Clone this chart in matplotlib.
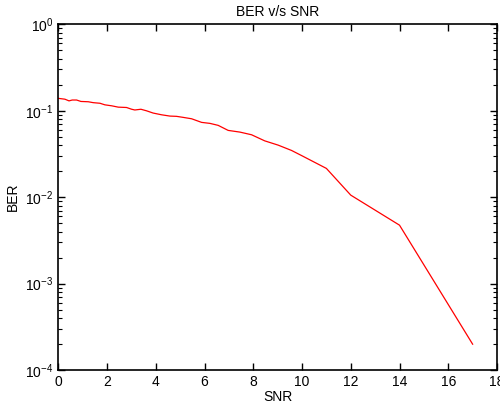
import matplotlib
matplotlib.use("Agg")
import matplotlib.pyplot as plt
from matplotlib.ticker import LogLocator, NullFormatter

plt.rcParams["font.family"] = ["Liberation Sans", "DejaVu Sans"]
plt.rcParams["mathtext.fontset"] = "custom"
plt.rcParams["mathtext.rm"] = "Liberation Sans"
plt.rcParams["mathtext.it"] = "Liberation Sans"

# values
snr = [0, 0.27, 0.44, 0.57, 0.75, 0.93, 1.23, 1.43, 1.71, 1.91, 2.19, 2.46,
       2.80, 3.01, 3.14, 3.39, 3.62, 3.89, 4.24, 4.58, 4.85, 5.12, 5.47, 5.88,
       6.22, 6.56, 6.97, 7.45, 7.93, 8.47, 9.02, 9.57, 10, 11, 12, 14, 17]
ber = [0.139, 0.136, 0.130, 0.133, 0.133, 0.128, 0.127, 0.124, 0.122, 0.117,
       0.114, 0.110, 0.109, 0.104, 0.102, 0.104, 0.0998, 0.094, 0.0897, 0.0867,
       0.0861, 0.0838, 0.0807, 0.0733, 0.0714, 0.0677, 0.0592, 0.0566, 0.0527,
       0.0448, 0.0400, 0.0347, 0.0301, 0.0215, 0.01055, 0.00474, 0.000199]

fig = plt.figure(figsize=(5, 4.07), dpi=100)
ax = fig.add_axes([0.1166, 0.0909, 0.8774, 0.8494])
ax.semilogy(snr, ber, color="red", linewidth=0.9)

ax.set_xlim(0, 18)
ax.set_ylim(1e-4, 1)
ax.set_xticks(range(0, 19, 2))
ax.yaxis.set_major_locator(LogLocator(base=10, numticks=10))
ax.yaxis.set_minor_locator(LogLocator(base=10, subs=range(2, 10), numticks=10))
ax.yaxis.set_minor_formatter(NullFormatter())

ax.tick_params(which="both", direction="in", top=True, right=True,
               labelsize=10, colors="black")
ax.tick_params(which="major", length=5, width=1)
ax.tick_params(which="minor", length=3, width=0.8)
for s in ax.spines.values():
    s.set_linewidth(1.2)

ax.set_title("BER v/s SNR", fontsize=10, pad=6)
ax.set_xlabel("SNR", fontsize=10, labelpad=1)
ax.set_ylabel("BER", fontsize=10, labelpad=4)

fig.savefig("out.png", dpi=100)
